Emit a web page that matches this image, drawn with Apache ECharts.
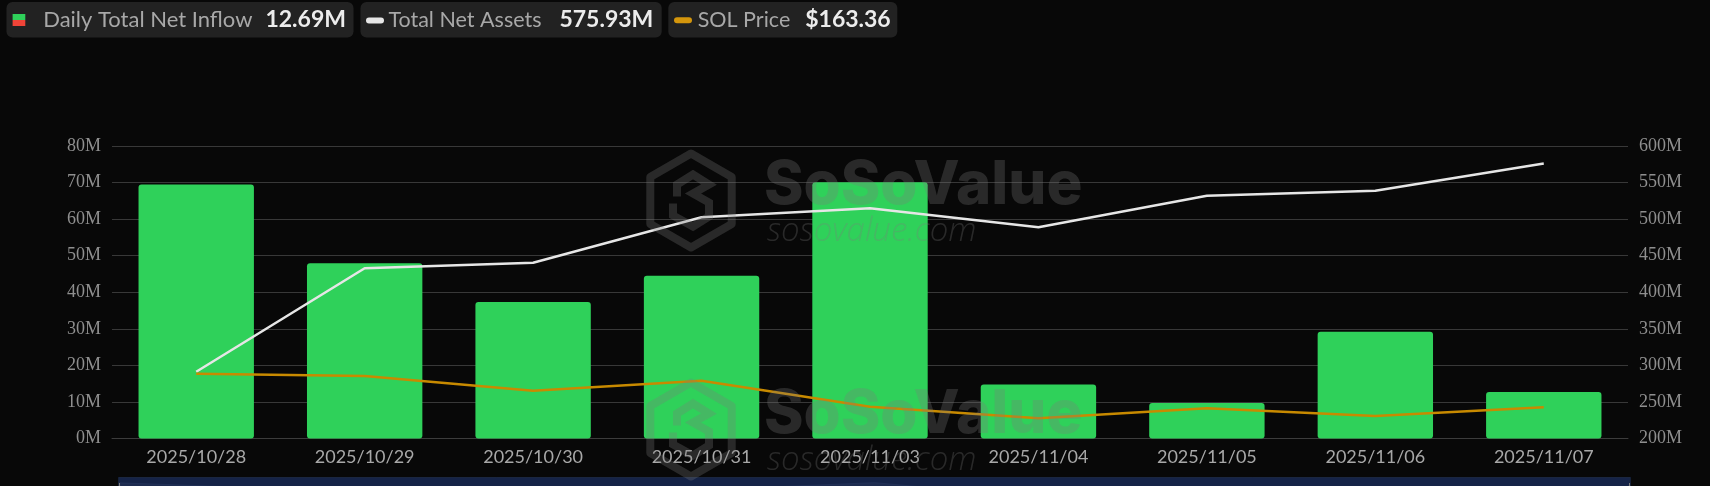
<!DOCTYPE html>
<html>
<head>
<meta charset="utf-8">
<script src="https://cdn.jsdelivr.net/npm/echarts@6/dist/echarts.min.js"></script>
<style>
  html, body { margin: 0; padding: 0; background: #080808; }
  #chart { width: 1710px; height: 486px; }
</style>
</head>
<body>
<div id="chart"></div>
<script>
// data (millions of USD, price in USD)
const dates = ["2025/10/28", "2025/10/29", "2025/10/30", "2025/10/31", "2025/11/03",
               "2025/11/04", "2025/11/05", "2025/11/06", "2025/11/07"];
const dailyInflow = [69.5, 47.9, 37.3, 44.5, 70.1, 14.8, 9.7, 29.2, 12.69];
const netAssets = [291.3, 432.8, 440.4, 502.5, 514.8, 488.8, 532.0, 538.9, 575.93];
const solPrice = [193.7, 191.6, 178.3, 187.4, 163.8, 153.3, 162.4, 155.4, 163.36];

const GREEN = "#2fd15a";
const RED = "#f04438";
const WHITE = "#e6e6e6";
const ORANGE = "#c88a00";

const chart = echarts.init(document.getElementById("chart"));

// legend pills at the top
function legendBox(x, w) {
  return { type: "rect", shape: { x: x, y: 2, width: w, height: 35.5, r: 6 },
           style: { fill: "#222222" }, z: 10 };
}
function label(x, text, size) {
  return { type: "text", x: x, y: 20, z: 11,
           style: { text: text, fill: "#a8a8a8", font: size + "px Lato", verticalAlign: "middle" } };
}
function value(xRight, text) {
  return { type: "text", x: xRight, y: 19.5, z: 11,
           style: { text: text, fill: "#ececec", font: "bold 23px Lato",
                    align: "right", verticalAlign: "middle" } };
}
const last = dates.length - 1;
const legendGraphics = [
  legendBox(6.5, 347),
  { type: "rect", shape: { x: 12.6, y: 14, width: 12.7, height: 6 }, style: { fill: GREEN }, z: 11 },
  { type: "rect", shape: { x: 12.6, y: 20, width: 12.7, height: 6 }, style: { fill: RED }, z: 11 },
  label(43.2, "Daily Total Net Inflow", 22),
  value(346, dailyInflow[last].toFixed(2) + "M"),

  legendBox(360.5, 301.2),
  { type: "rect", shape: { x: 366, y: 17.5, width: 18, height: 6, r: 3 }, style: { fill: WHITE }, z: 11 },
  label(388.4, "Total Net Assets", 21.5),
  value(653.3, netAssets[last].toFixed(2) + "M"),

  legendBox(668.3, 229),
  { type: "rect", shape: { x: 674, y: 17.3, width: 18, height: 6, r: 3 }, style: { fill: "#d4960c" }, z: 11 },
  label(697.7, "SOL Price", 21.5),
  value(890.7, "$" + solPrice[last].toFixed(2))
];

// SoSoValue watermark (drawn twice)
const WM = "rgba(125,125,125,0.29)";
function watermark(dy) {
  const cx = 691, cy = 200.5 + dy, r = 47;
  const hex = [];
  for (let i = 0; i < 6; i++) {
    const a = Math.PI / 180 * (60 * i - 90);
    hex.push([cx + r * Math.cos(a), cy + r * Math.sin(a)]);
  }
  return [
    { type: "polygon", shape: { points: hex }, z: 50,
      style: { fill: null, stroke: WM, lineWidth: 8, lineJoin: "round" } },
    { type: "polyline", z: 50,
      shape: { points: [[cx - 14, cy - 4], [cx - 14, cy - 16], [cx + 2, cy - 26], [cx + 18, cy - 16],
                        [cx + 2, cy - 7], [cx + 18, cy + 2], [cx + 18, cy + 16], [cx + 2, cy + 26],
                        [cx - 18, cy + 15], [cx - 18, cy + 3]] },
      style: { stroke: WM, lineWidth: 8, lineJoin: "miter" } },
    { type: "text", x: 764, y: 186 + dy, z: 50,
      style: { text: "SoSoValue", fill: WM, font: "800 60px Inter", verticalAlign: "middle" } },
    { type: "text", x: 767, y: 232 + dy, z: 50,
      style: { text: "sosovalue.com", fill: WM, font: "italic 300 33px 'Open Sans'", verticalAlign: "middle" } }
  ];
}

chart.setOption({
  backgroundColor: "#080808",
  animation: false,
  graphic: legendGraphics.concat(watermark(0), watermark(229)),
  grid: { left: 112, right: 82, top: 146, bottom: 47.5 },
  xAxis: {
    type: "category",
    data: dates,
    axisTick: { show: false },
    axisLine: { lineStyle: { color: "#3c3c3c" } },
    axisLabel: { color: "#a8a8a8", fontFamily: "Lato", fontSize: 18, margin: 10 }
  },
  yAxis: [
    {
      type: "value",
      min: 0, max: 80, interval: 10,
      axisLabel: { formatter: "{value}M", color: "#8f8f8f", fontFamily: "Liberation Serif", fontSize: 18, margin: 11 },
      splitLine: { lineStyle: { color: "#383838" } }
    },
    {
      type: "value",
      min: 200, max: 600, interval: 50,
      axisLabel: { formatter: "{value}M", color: "#8f8f8f", fontFamily: "Liberation Serif", fontSize: 18, margin: 11 },
      splitLine: { show: false }
    },
    // SOL price has no visible axis
    { type: "value", min: 135, max: 400, show: false, splitLine: { show: false } }
  ],
  dataZoom: [{
    type: "slider",
    xAxisIndex: 0,
    left: 116, right: 82, top: 477, height: 30,
    start: 0, end: 100,
    showDetail: false,
    brushSelect: false,
    moveHandleSize: 0,
    backgroundColor: "#0f1829",
    borderColor: "#1a2640",
    fillerColor: "rgba(22,38,76,0.85)",
    dataBackground: { lineStyle: { color: "#2a4c9a" }, areaStyle: { color: "#1f3a7a" } },
    handleStyle: { color: "#7a7a7a", borderColor: "#7a7a7a" },
    handleSize: "60%"
  }],
  series: [
    {
      name: "Daily Total Net Inflow",
      type: "bar",
      data: dailyInflow,
      barWidth: "68.5%",
      itemStyle: {
        borderRadius: 3,
        color: (p) => (p.value >= 0 ? GREEN : RED)
      }
    },
    {
      name: "Total Net Assets",
      type: "line",
      yAxisIndex: 1,
      data: netAssets,
      showSymbol: false,
      lineStyle: { color: WHITE, width: 2.5 },
      itemStyle: { color: WHITE }
    },
    {
      name: "SOL Price",
      type: "line",
      yAxisIndex: 2,
      data: solPrice,
      showSymbol: false,
      lineStyle: { color: ORANGE, width: 2.5 },
      itemStyle: { color: ORANGE }
    }
  ]
});
</script>
</body>
</html>
